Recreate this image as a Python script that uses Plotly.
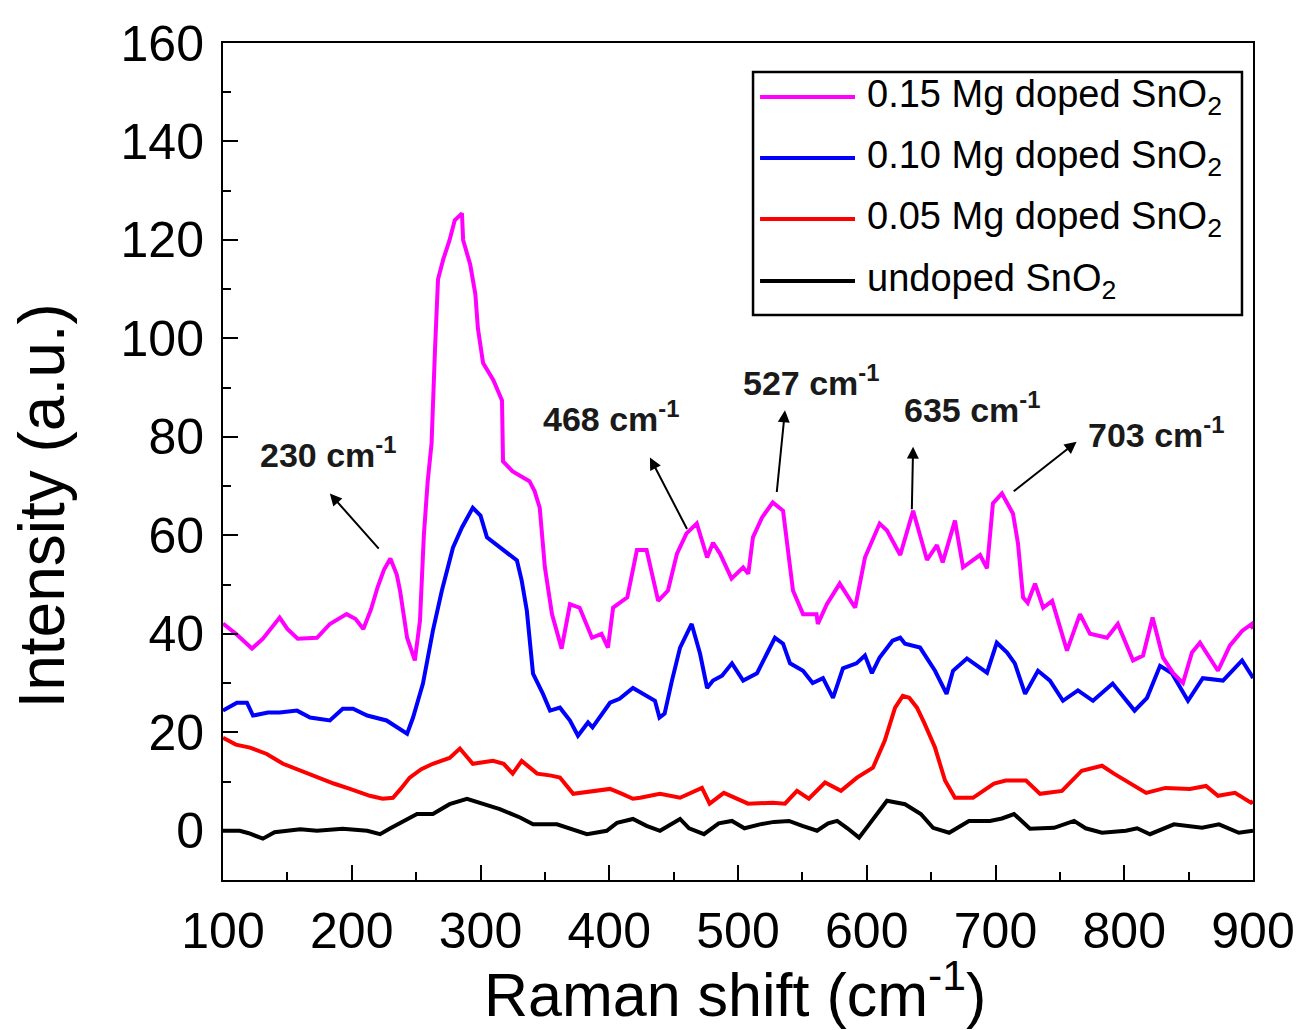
import plotly.graph_objects as go

# ---------------- data ----------------
x_015 = [100, 110, 122.5, 131, 144, 150, 158, 173, 183, 196, 203, 209, 215, 220, 225, 230, 235, 237.5,
         243, 249, 253, 256, 259, 262, 264.7, 267, 271, 276, 280, 285.6, 286.5, 292, 296, 298, 302, 310,
         316.7, 317.5, 325, 338, 342, 346, 350, 355.5, 363, 369.5, 377, 386.6, 394, 399, 403, 414, 421.5,
         429, 438, 445.6, 452.6, 460, 468, 476, 480.6, 486, 495, 504, 508, 511.6, 518.6, 527, 535, 538.8,
         542.7, 550.5, 561, 562, 569, 579, 591, 598.6, 610, 615.7, 626, 636, 646.8, 654.5, 659, 668.5,
         674.8, 688, 693.4, 698, 705, 713.6, 717.5, 721.4, 725, 730.7, 737, 744, 755.5, 765.6, 773.4,
         786.6, 795, 806.8, 814.6, 822, 830, 838, 845.6, 852.6, 858.8, 872.8, 882, 891.5, 899, 900]
y_015 = [42.1, 40, 37, 39, 43.3, 41, 39, 39.2, 42, 44, 43, 41, 45, 49.4, 53, 55.3, 52, 48.8,
         39.2, 34.6, 42.7, 60, 71, 78.7, 98, 112, 116, 120, 124, 125.4, 120, 115, 109, 102, 95, 91.5,
         87.4, 75, 73, 71, 69, 65.6, 53.5, 44, 37, 46, 45.3, 39.2, 40, 37.2, 45.3, 47.4, 57,
         57, 46.7, 48.8, 56.3, 60.4, 62.4, 55.5, 58.5, 56.3, 51.2, 53.5, 52.2, 59.6, 63.6, 66.7, 65, 57.5,
         48.8, 44, 44, 42, 46, 50.2, 45.3, 55.5, 62.4, 61, 56, 65, 55, 58, 54.5, 63,
         53.5, 56, 53.3, 66.5, 68.5, 64.4, 58.3, 47.4, 46.3, 50.2, 45.3, 46.7, 36.6, 44, 40,
         39.2, 42, 34.6, 35.6, 43.3, 35.2, 32, 30, 36.2, 38.2, 32.5, 37.6, 40.6, 42, 41]

x_010 = [100, 110.8, 118.6, 123.3, 135, 144, 157.5, 167.6, 183, 193, 201, 212, 227, 243, 247.6, 255.3,
         263, 270, 278.6, 285.6, 294, 300, 305, 312.8, 320.6, 328.3, 332, 336, 340.8, 348.5, 354, 361.7,
         369.5, 375.7, 383.5, 387, 400.6, 408, 418.4, 426, 435.5, 439, 443, 448.7, 455, 464, 470.5, 476,
         480.6, 487.6, 495.3, 504, 514.8, 522.5, 528.7, 535, 540.4, 550.5, 558, 566, 573.8, 581.5, 592,
         598.6, 604, 610, 620, 626, 629.7, 641.4, 653, 662, 667, 677.8, 693.4, 701, 709, 715, 723, 733,
         742.3, 752.4, 764, 775.7, 791, 808, 817.7, 827.8, 837, 849.5, 861, 876.7, 891.5, 899, 900]
y_010 = [24.4, 26, 26, 23.4, 24, 24, 24.4, 23, 22.4, 24.8, 24.8, 23.4, 22.4, 19.7, 23, 29.9,
         40.6, 48.8, 57.5, 61.6, 65.6, 64, 59.6, 58, 56.3, 54.9, 50.8, 44.7, 31.9, 27.8, 24.4, 25,
         22.4, 19.3, 22, 21, 26, 26.8, 29, 27.8, 26.4, 23, 23.8, 30.5, 37.2, 42, 36, 29,
         30.5, 31.5, 34, 30.5, 32, 36, 39.2, 38, 34, 32.5, 30, 31, 27, 33, 34,
         35.6, 32, 35.2, 38.6, 39.2, 38, 37.2, 32.5, 27.8, 32.5, 35, 32.1, 38.2, 36.2, 34, 27.8, 32.5,
         30.5, 26.4, 28.5, 26.4, 29.9, 24.4, 27, 33.5, 32, 26.4, 31, 30.5, 34.6, 31.5, 31]

x_005 = [100, 110, 121, 134, 146.6, 160, 173, 186, 198.6, 214, 224, 232, 238, 245, 254, 263, 276, 284,
         294, 309.7, 318, 325, 332, 338, 344, 355, 361.7, 372, 385, 400.6, 410, 418.4, 424, 439.4, 455,
         472, 478, 489, 507.8, 527, 536.5, 545.8, 555, 567.6, 580, 592.4, 604.8, 614, 622, 628, 633, 639,
         645, 653, 660.8, 668.5, 682.5, 698.8, 708, 723.7, 734.6, 751.6, 767, 782.7, 792, 804.5, 817,
         832, 851, 863.5, 872.8, 886, 898.4, 900]
y_005 = [18.9, 17.5, 16.9, 15.6, 13.6, 12.2, 10.8, 9.6, 8.5, 7.1, 6.5, 6.7, 8.5, 10.8, 12.5, 13.6, 14.8, 16.7,
         13.6, 14.2, 13.6, 11.6, 14.2, 13, 11.6, 11.2, 10.8, 7.5, 8, 8.5, 7.5, 6.5, 6.7, 7.5, 6.7,
         8.7, 5.5, 7.7, 5.5, 5.7, 5.5, 8.1, 6.5, 9.8, 8.1, 10.8, 12.8, 18.3, 25, 27.4, 27, 25,
         21.7, 16.9, 10.2, 6.7, 6.7, 9.6, 10.2, 10.2, 7.5, 8.1, 12.2, 13.2, 11.6, 9.6, 7.7,
         8.7, 8.5, 9.1, 7.1, 7.7, 5.7, 6]

x_undoped = [100, 113, 120, 131, 140, 149.7, 160, 173, 193, 212, 222, 230, 237.5, 250.7, 263, 276, 289.5,
             302, 315, 330.7, 340.8, 359.4, 369.5, 382.7, 398, 406, 418.4, 429, 439.4, 455, 462, 473.6,
             485, 495.3, 505, 517, 528, 539.6, 550, 561.4, 570, 577, 585, 594, 601, 608, 615.7, 629.7,
             642, 651.5, 664, 679.4, 695.7, 705, 714.4, 726.8, 745.5, 761, 770, 782.7, 801.3, 810, 820,
             838.6, 860.4, 873.6, 889, 900]
y_undoped = [0, 0, -0.5, -1.6, -0.3, 0, 0.3, 0, 0.4, 0, -0.7, 0.5, 1.6, 3.4, 3.4, 5.4, 6.5,
             5.4, 4.4, 2.7, 1.3, 1.3, 0.4, -0.7, 0, 1.6, 2.4, 1, 0, 2.4, 0.5, -0.7,
             1.5, 2, 0.5, 1.3, 1.8, 2, 1, 0, 1.5, 2, 0.5, -1.4, 1, 3.4, 6.1, 5.4,
             3.4, 0.6, -0.4, 2, 2, 2.5, 3.4, 0.4, 0.6, 2, 0.5, -0.4, 0, 0.5, -0.7,
             1.3, 0.6, 1.3, -0.4, 0]

series_names = ["0.15 Mg doped SnO<sub>2</sub>", "0.10 Mg doped SnO<sub>2</sub>",
                "0.05 Mg doped SnO<sub>2</sub>", "undoped SnO<sub>2</sub>"]
series_colors = ["#FF00FF", "#0000FF", "#FF0000", "#000000"]

# peak labels: text, text position, arrow tail (on curve), arrow head
peak_labels = ["230 cm<sup>-1</sup>", "468 cm<sup>-1</sup>", "527 cm<sup>-1</sup>",
               "635 cm<sup>-1</sup>", "703 cm<sup>-1</sup>"]
label_x = [182.3, 401.4, 556.7, 682.5, 825.4]
label_y = [76.8, 84.1, 91.5, 86.0, 80.9]
tail_x = [222, 461, 530, 635, 713]
tail_y = [57, 61, 68.5, 65, 68.7]
head_x = [183, 431.6, 536.5, 636, 763]
head_y = [68.5, 75.8, 85.4, 78, 79]

FONT = "Liberation Sans, Arial, sans-serif"

fig = go.Figure()
all_x = [x_015, x_010, x_005, x_undoped]
all_y = [y_015, y_010, y_005, y_undoped]
for i in [3, 2, 1, 0]:
    fig.add_trace(go.Scatter(x=all_x[i], y=all_y[i], mode="lines", name=series_names[i],
                             line=dict(color=series_colors[i], width=4), showlegend=False))

axis_common = dict(showgrid=False, zeroline=False, showline=True, linecolor="black", linewidth=2,
                   mirror=True, ticks="inside", ticklen=15, tickwidth=2, tickcolor="black",
                   automargin=False,
                   tickfont=dict(family=FONT, size=50, color="black"))

fig.update_xaxes(range=[100, 900], tick0=100, dtick=100, ticklabelstandoff=6,
                 minor=dict(ticks="inside", ticklen=8, tickwidth=2, tickcolor="black", dtick=50, tick0=100),
                 **axis_common)
fig.update_yaxes(range=[-10, 160], tick0=0, dtick=20, ticklabelstandoff=7,
                 minor=dict(ticks="inside", ticklen=8, tickwidth=2, tickcolor="black", dtick=10, tick0=0),
                 **axis_common)

annotations = []
for i in range(len(peak_labels)):
    annotations.append(dict(x=label_x[i], y=label_y[i], xref="x", yref="y", text=peak_labels[i],
                            showarrow=False, xanchor="center", yanchor="middle",
                            font=dict(family=FONT, size=34, color="#1a1a1a", weight="bold")))
    annotations.append(dict(x=head_x[i], y=head_y[i], ax=tail_x[i], ay=tail_y[i], xref="x", yref="y",
                            axref="x", ayref="y", text="", showarrow=True, arrowhead=2, arrowsize=1.2,
                            arrowwidth=2, arrowcolor="black"))

# axis titles
annotations.append(dict(x=0.497, y=-0.131, xref="paper", yref="paper", text="Raman shift (cm<sup>-1</sup>)",
                        showarrow=False, xanchor="center", yanchor="middle",
                        font=dict(family=FONT, size=61, color="black")))
annotations.append(dict(x=-0.176, y=0.447, xref="paper", yref="paper", text="Intensity (a.u.)",
                        textangle=-90, showarrow=False, xanchor="center", yanchor="middle",
                        font=dict(family=FONT, size=64, color="black")))

# legend (drawn as box + line samples + labels)
shapes = [dict(type="rect", xref="paper", yref="paper", x0=0.5146, x1=0.9893, y0=0.675, y1=0.9654,
               line=dict(color="black", width=2.5), fillcolor="white", layer="above")]
row_y = [0.9355, 0.8626, 0.7897, 0.7157]
for i in range(4):
    shapes.append(dict(type="line", xref="paper", yref="paper", x0=0.5214, x1=0.6136, y0=row_y[i], y1=row_y[i],
                       line=dict(color=series_colors[i], width=4), layer="above"))
    annotations.append(dict(x=0.6233, y=row_y[i], xref="paper", yref="paper", text=series_names[i],
                            showarrow=False, xanchor="left", yanchor="middle",
                            font=dict(family=FONT, size=38, color="black")))

fig.update_layout(width=1296, height=1030, margin=dict(l=223, r=43, t=43, b=150),
                  paper_bgcolor="white", plot_bgcolor="white", showlegend=False,
                  annotations=annotations, shapes=shapes)

fig.write_html("out.html")
